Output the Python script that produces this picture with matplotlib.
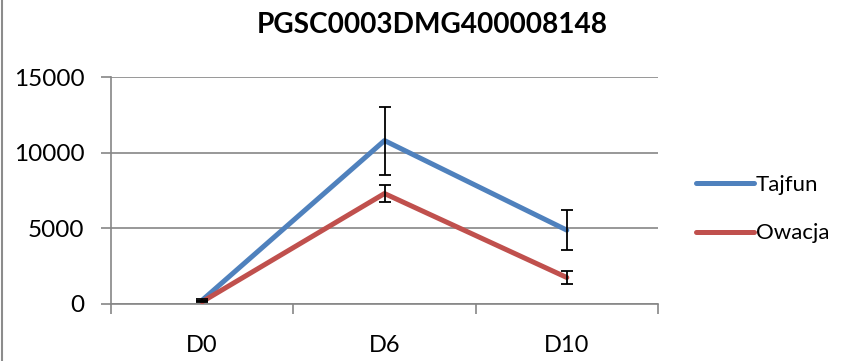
import matplotlib
matplotlib.use("Agg")
import matplotlib.pyplot as plt
from matplotlib.lines import Line2D
import numpy as np

plt.rcParams["font.family"] = ["Lato", "DejaVu Sans"]

CATEGORIES = ["D0", "D6", "D10"]
TAJFUN = [250, 10800, 4880]
TAJFUN_ERR = [70, 2250, 1300]
OWACJA = [150, 7300, 1750]
OWACJA_ERR = [50, 550, 400]
Y_TICKS = [0, 5000, 10000, 15000]

BLUE = "#4F81BD"
RED = "#C0504D"
GRID = "#868686"

fig = plt.figure(figsize=(8.58, 3.61), dpi=100)
ax = fig.add_axes([111 / 858, 1 - 304 / 361, (658 - 111) / 858, (304 - 77) / 361])

x = np.arange(len(CATEGORIES))
for vals, errs, color, name in [(TAJFUN, TAJFUN_ERR, BLUE, "Tajfun"),
                                (OWACJA, OWACJA_ERR, RED, "Owacja")]:
    ax.plot(x, vals, color=color, lw=3.6, solid_capstyle="round", label=name, zorder=3)
    ax.errorbar(x, vals, yerr=errs, fmt="none", ecolor="black", elinewidth=1.3,
                capsize=4.5, capthick=1.3, zorder=4)

ax.set_xlim(-0.5, 2.5)
ax.set_ylim(0, 15000)
ax.set_yticks(Y_TICKS)
ax.set_xticks(x)
ax.set_xticklabels(CATEGORIES)
ax.set_xticks([-0.5, 0.5, 1.5, 2.5], minor=True)
ax.tick_params(axis="x", which="major", length=0, pad=22, labelsize=17)
ax.tick_params(axis="x", which="minor", length=7, width=1.2, color=GRID)
ax.tick_params(axis="y", length=7, width=1.2, color=GRID, labelsize=17.5, pad=12)

ax.grid(axis="y", color=GRID, lw=1.2)
ax.set_axisbelow(True)
for s in ["top", "right"]:
    ax.spines[s].set_visible(False)
for s in ["left", "bottom"]:
    ax.spines[s].set_color(GRID)
    ax.spines[s].set_linewidth(1.2)

fig.text(432 / 858, 1 - 25 / 361, "PGSC0003DMG400008148", fontsize=20.2,
         fontweight="bold", ha="center", va="center")

handles = [Line2D([], [], color=BLUE, lw=3.6, solid_capstyle="round"),
           Line2D([], [], color=RED, lw=3.6, solid_capstyle="round")]
fig.legend(handles, ["Tajfun", "Owacja"], loc="center left",
           bbox_to_anchor=(676 / 858, 1 - 209 / 361), frameon=False, fontsize=16,
           handlelength=2.6, handletextpad=0.1, labelspacing=1.3)

fig.add_artist(Line2D([2 / 858, 2 / 858], [0, 1], color="#8C8C8C", lw=1.5,
                      transform=fig.transFigure))

fig.savefig("out.png", dpi=100)
